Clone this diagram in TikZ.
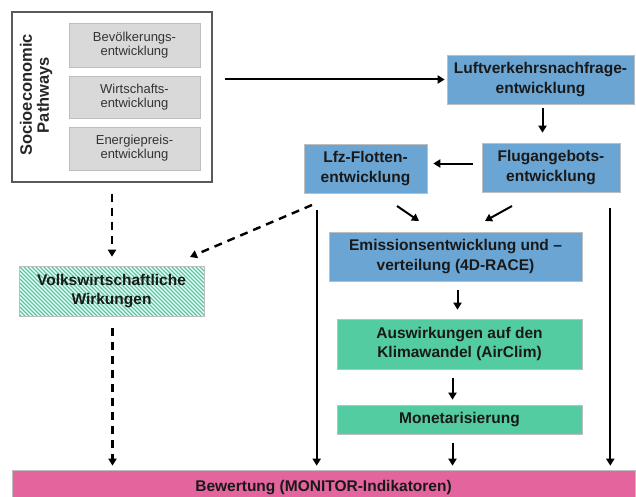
\documentclass[tikz,border=0pt]{standalone}
\usepackage{fontspec}
\setmainfont{Liberation Sans}
\usetikzlibrary{arrows.meta,calc}
\definecolor{boxblue}{RGB}{106,165,212}
\definecolor{boxgreen}{RGB}{82,204,160}
\definecolor{hatchgreen}{RGB}{80,200,160}
\definecolor{boxpink}{RGB}{228,100,158}
\definecolor{graybox}{RGB}{217,217,217}
\definecolor{grayline}{RGB}{190,190,190}
\definecolor{frameline}{RGB}{90,90,90}
\begin{document}
\begin{tikzpicture}[x=1pt,y=-1pt,
  mainbox/.style={draw=grayline, line width=0.6pt, align=center, inner sep=0pt,
    font=\fontsize{15.5}{19.5}\selectfont\bfseries, text=black!90},
  bluebox/.style={mainbox, fill=boxblue},
  greenbox/.style={mainbox, fill=boxgreen},
  hatchbox/.style={mainbox, fill=white, path picture={
    \foreach \k in {-64,-60,...,196}{
      \draw[hatchgreen, line width=1.3pt] ([xshift=\k pt]path picture bounding box.north west) -- ++(60,60);}}},
  subbox/.style={draw=grayline, fill=graybox, line width=0.8pt, align=center, inner sep=0pt,
    minimum width=131pt, font=\fontsize{13}{14}\selectfont, text=black!80},
  arr/.style={line width=2pt, -{Triangle[length=7pt,width=8pt]}},
  darr/.style={line width=2.4pt, dash pattern=on 8pt off 6pt, -{Triangle[length=7pt,width=8pt]}},
  ]
\useasboundingbox (0,0) rectangle (636,497);
% socio-economic frame
\node[draw=frameline, line width=1.3pt, minimum width=200pt, minimum height=170pt, inner sep=0pt] (frame) at (112,97) {};
\node[subbox, minimum height=44pt] (g1) at (134.5,45) {Bevölkerungs-\\entwicklung};
\node[subbox, minimum height=42pt] (g2) at (134.5,97) {Wirtschafts-\\entwicklung};
\node[subbox, minimum height=43pt] (g3) at (134.5,148.5) {Energiepreis-\\entwicklung};
\node[rotate=90, align=center, font=\fontsize{16.5}{17}\selectfont\bfseries, text=black!85] (socio) at (36,95) {Socioeconomic\\Pathways};
% blue boxes
\node[bluebox, minimum width=187pt, minimum height=49pt] (luft) at (540.5,79.5) {Luftverkehrsnachfrage-\\entwicklung};
\node[bluebox, minimum width=138pt, minimum height=49pt] (flug) at (551,167.5) {Flugangebots-\\entwicklung};
\node[bluebox, minimum width=123pt, minimum height=49pt] (lfz) at (365.5,168.5) {Lfz-Flotten-\\entwicklung};
\node[bluebox, minimum width=253pt, minimum height=49pt] (emis) at (455.5,256.5) {Emissionsentwicklung und –\\verteilung (4D-RACE)};
% green boxes
\node[hatchbox, minimum width=185pt, minimum height=50pt] (volks) at (111.5,291) {Volkswirtschaftliche\\Wirkungen};
\node[greenbox, minimum width=245pt, minimum height=50pt] (ausw) at (459.5,344) {Auswirkungen auf den\\Klimawandel (AirClim)};
\node[greenbox, minimum width=245pt, minimum height=29pt] (monet) at (459.5,419.5) {Monetarisierung};
% bottom
\node[mainbox, fill=boxpink, minimum width=623pt, minimum height=35pt] (bew) at (323.5,487.5) {Bewertung (MONITOR-Indikatoren)};
% coordinates for diagonal connectors
\coordinate (a1) at (397,206);
\coordinate (a2) at (419,221);
\coordinate (b1) at (512,206);
\coordinate (b2) at (485,221);
\coordinate (c1) at (312,205);
\coordinate (c2) at (190,257);
% connectors
\draw[arr, shorten <=12pt, shorten >=2pt] (frame.east |- luft.west) -- (luft.west);
\draw[arr, shorten <=4pt, shorten >=10pt] ([xshift=2pt]luft.south) -- ([xshift=2pt]luft.south |- flug.north);
\draw[arr, shorten <=9pt, shorten >=6pt] ([yshift=4pt]flug.west) -- ([yshift=4pt]flug.west -| lfz.east);
\draw[arr] (a1) -- (a2);
\draw[arr] (b1) -- (b2);
\draw[darr] (c1) -- (c2);
\draw[darr, shorten <=11pt, shorten >=9pt] (frame.south) -- (frame.south |- volks.north);
\draw[darr, shorten <=12pt, shorten >=4pt] ([xshift=1pt]volks.south) -- ([xshift=1pt]volks.south |- bew.north);
\draw[arr, shorten <=17pt, shorten >=4pt] ([xshift=13pt]lfz.south west) -- ([xshift=13pt]lfz.south west |- bew.north);
\draw[arr, shorten <=16pt, shorten >=4pt] ([xshift=-10pt]flug.south east) -- ([xshift=-10pt]flug.south east |- bew.north);
\draw[arr, shorten <=9pt, shorten >=9pt] ([xshift=2pt]emis.south) -- ([xshift=2pt]emis.south |- ausw.north);
\draw[arr, shorten <=9pt, shorten >=5pt] ([xshift=-7pt]ausw.south) -- ([xshift=-7pt]ausw.south |- monet.north);
\draw[arr, shorten <=9pt, shorten >=4pt] ([xshift=-7pt]monet.south) -- ([xshift=-7pt]monet.south |- bew.north);
\end{tikzpicture}
\end{document}
